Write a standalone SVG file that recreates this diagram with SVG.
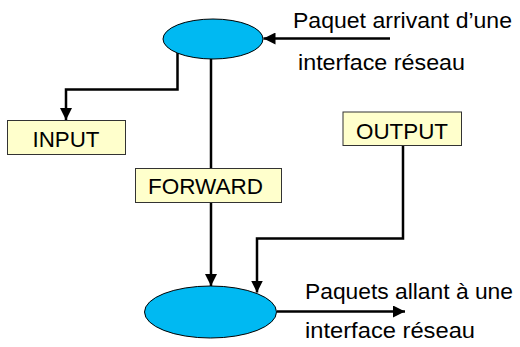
<svg xmlns="http://www.w3.org/2000/svg" width="520" height="347" viewBox="0 0 520 347">
  <defs>
    <marker id="arrow" markerUnits="userSpaceOnUse" markerWidth="12" markerHeight="12" refX="12" refY="6" orient="auto">
      <path d="M0,0 L12,6 L0,12 z" fill="#000"/>
    </marker>
    <style>
      .conn { fill: none; stroke: #000; stroke-width: 2.5; marker-end: url(#arrow); }
      .plain { fill: none; stroke: #000; stroke-width: 2.5; }
      .hub { fill: #00B9F2; stroke: #000; stroke-width: 1; }
      .chain { fill: #FFFFCC; stroke: #333; stroke-width: 1; }
      text { font-family: "Liberation Sans", Arial, sans-serif; font-size: 22px; fill: #000; }
      .mid { text-anchor: middle; }
    </style>
  </defs>
  <rect width="520" height="347" fill="#fff"/>

  <!-- connectors -->
  <g id="connectors">
    <path class="conn" d="M390,38.5 L263.5,38.5"/>
    <path class="conn" d="M177.5,53 L177.5,89.5 L66,89.5 L66,120"/>
    <path class="plain" d="M211,59 L211,168"/>
    <path class="conn" d="M211,203 L211,286"/>
    <path class="conn" d="M403,146 L403,238.5 L257,238.5 L257,292.5"/>
    <path class="conn" d="M277,311.5 L405,311.5"/>
  </g>

  <!-- incoming hub -->
  <g id="hub-in">
    <ellipse class="hub" cx="213" cy="39" rx="50" ry="20"/>
  </g>

  <!-- outgoing hub -->
  <g id="hub-out">
    <ellipse class="hub" cx="210.5" cy="312" rx="66" ry="26"/>
  </g>

  <g id="input">
    <rect class="chain" x="7.5" y="120.5" width="118" height="34"/>
    <text class="mid" x="66" y="147" textLength="67" lengthAdjust="spacingAndGlyphs">INPUT</text>
  </g>

  <g id="forward">
    <rect class="chain" x="135.5" y="168.5" width="146" height="34"/>
    <text class="mid" x="205.5" y="194" textLength="115" lengthAdjust="spacingAndGlyphs">FORWARD</text>
  </g>

  <g id="output">
    <rect class="chain" x="343" y="112" width="118.5" height="33.5"/>
    <text class="mid" x="402" y="139" textLength="92" lengthAdjust="spacingAndGlyphs">OUTPUT</text>
  </g>

  <!-- edge labels -->
  <g id="label-in">
    <text x="293" y="28" textLength="219" lengthAdjust="spacingAndGlyphs">Paquet arrivant d’une</text>
    <text x="298" y="70" textLength="167" lengthAdjust="spacingAndGlyphs">interface réseau</text>
  </g>
  <g id="label-out">
    <text x="305" y="299" textLength="208" lengthAdjust="spacingAndGlyphs">Paquets allant à une</text>
    <text x="305" y="338" textLength="170" lengthAdjust="spacingAndGlyphs">interface réseau</text>
  </g>
</svg>
